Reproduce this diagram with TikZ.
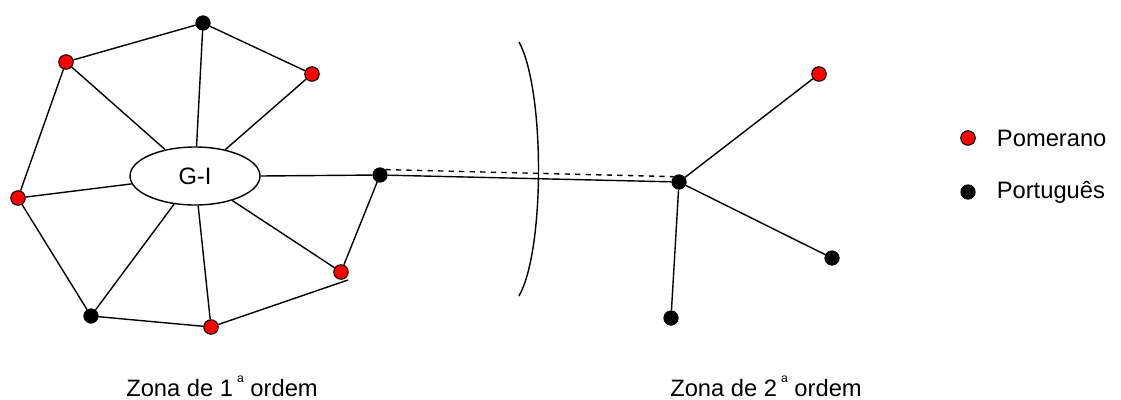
\documentclass[tikz,border=0pt]{standalone}
\usepackage{fontspec}
\setmainfont{Liberation Sans}
\usetikzlibrary{shapes.geometric,positioning}
\newcommand{\ordsup}{\,\raisebox{1.1ex}{\fontsize{7}{8}\selectfont a}}
\tikzset{
  pom/.style={circle,draw=black,fill=red,line width=0.6pt,inner sep=0pt,minimum size=0.29cm},
  por/.style={circle,draw=black,fill=black,inner sep=0pt,minimum size=0.29cm},
  link/.style={line width=0.8pt,black}
}

\begin{document}
\begin{tikzpicture}[x=0.02cm,y=-0.02cm,font=\fontsize{13.5}{16}\selectfont]
\useasboundingbox (0,0) rectangle (1121,399);
% first order zone
\node[ellipse,draw,line width=0.8pt,minimum width=2.6cm,minimum height=1.16cm] (gi) at (195,176) {G-I};
\node[por] (n1) at (203,23) {};
\node[pom] (n2) at (66,62) {};
\node[pom] (n3) at (312,74) {};
\node[pom] (n4) at (18,198) {};
\node[por] (n5) at (91,316) {};
\node[pom] (n6) at (211,327) {};
\node[pom] (n7) at (341,272) {};
\node[por] (n8) at (380,175) {};
\coordinate (c7) at (348,280);
\foreach \n in {n1,n2,n3,n4,n5,n6,n7} \draw[link] (gi) -- (\n);
\draw[link] (gi.east) -- (n8);
\draw[link] (n3) -- (n1) -- (n2) -- (n4) -- (n5) -- (n6) -- (c7);
\draw[link] (n8) -- (n7);
% second order zone
\node[por] (m0) at (679,182) {};
\node[pom] (m1) at (819,74) {};
\node[por] (m2) at (832,258) {};
\node[por] (m3) at (671,318) {};
\draw[link] (n8) -- (m0);
\draw[link,dashed] (n8.north east) -- (m0.north west);
\foreach \m in {m1,m2,m3} \draw[link] (m0) -- (\m);
\draw[link] (519,42) .. controls (545,90) and (545,250) .. (519,296);
% legend
\node[pom] (lp) at (968,138) {};
\node[por] (lb) at (968,192) {};
\node[right=0.3cm of lp] (tp) {Pomerano};
\node[right=0.3cm of lb] (tb) {Português};
% zone labels
\node (z1) at (222,386) {Zona de 1\ordsup{} ordem};
\node (z2) at (766,386) {Zona de 2\ordsup{} ordem};
\end{tikzpicture}
\end{document}
